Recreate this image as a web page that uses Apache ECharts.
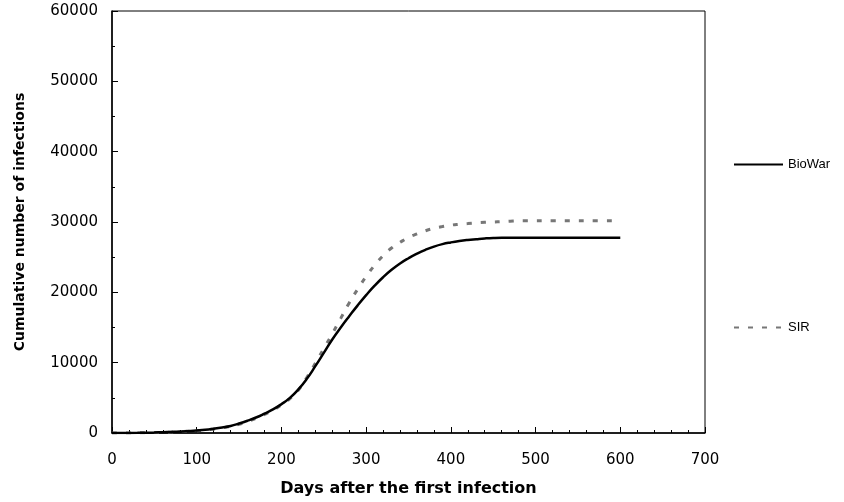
<!DOCTYPE html>
<html>
<head>
<meta charset="utf-8">
<script src="https://cdn.jsdelivr.net/npm/echarts@6/dist/echarts.min.js"></script>
<style>html,body{margin:0;padding:0;background:#fff}#c{width:844px;height:502px}</style>
</head>
<body>
<div id="c"></div>
<script>
const days = [0,10,20,30,40,50,60,70,80,90,100,110,120,130,140,150,160,170,180,190,200,210,220,230,240,250,260,270,280,290,300,310,320,330,340,350,360,370,380,390,400,410,420,430,440,450,460,470,480,490,500,510,520,530,540,550,560,570,580,590,600];
const bioWar = [0,0,10,20,40,70,110,150,200,270,350,450,600,780,1000,1350,1750,2200,2750,3350,4100,5000,6200,7700,9500,11400,13300,15000,16600,18150,19600,20950,22150,23200,24100,24850,25500,26050,26500,26850,27100,27300,27450,27560,27660,27730,27760,27760,27760,27760,27760,27760,27760,27760,27760,27760,27760,27760,27760,27760,27760];
const sir = [0,0,10,20,40,60,100,140,190,250,320,420,560,730,940,1250,1650,2100,2650,3250,4000,4900,6100,7900,9900,12000,14100,16300,18500,20450,22250,23850,25200,26300,27100,27800,28300,28750,29100,29350,29550,29680,29780,29880,29950,30000,30050,30120,30170,30170,30170,30170,30170,30170,30170,30170,30170,30170,30170,30170,null];
const seriesNames = ['BioWar','SIR'];
const xTicks = {min:0, max:700, interval:100};
const yTicks = {min:0, max:60000, interval:10000};

const toPairs = arr => days.map((d,i)=>[d,arr[i]]).filter(p=>p[1]!==null);
const font = '"Liberation Sans", Arial, sans-serif';
const wide = '"DejaVu Sans", sans-serif';
const legendCommon = {itemWidth:49,itemHeight:14,itemStyle:{opacity:0},textStyle:{fontFamily:font,fontSize:13,color:'#000'}};
const chart = echarts.init(document.getElementById('c'));
chart.setOption({
  animation:false,
  backgroundColor:'#fff',
  grid:{left:112,right:139,top:11,bottom:68,show:true,borderColor:'#000',borderWidth:1},
  legend:[
    Object.assign({data:[seriesNames[0]],left:728,top:153},legendCommon),
    Object.assign({data:[seriesNames[1]],left:728,top:316},legendCommon)
  ],
  xAxis:{type:'value',min:xTicks.min,max:xTicks.max,interval:xTicks.interval,
    name:'Days after the first infection',nameLocation:'middle',nameGap:48,
    nameTextStyle:{fontFamily:wide,fontSize:16,fontWeight:'bold',color:'#000'},
    axisLine:{lineStyle:{color:'#000',width:1.5}},
    axisTick:{inside:true,length:6,lineStyle:{color:'#000'}},
    minorTick:{show:true,splitNumber:5,length:3,lineStyle:{color:'#000'}},
    splitLine:{show:false},
    axisLabel:{fontFamily:wide,fontSize:15,color:'#000',margin:20}},
  yAxis:{type:'value',min:yTicks.min,max:yTicks.max,interval:yTicks.interval,
    name:'Cumulative number of infections',nameLocation:'middle',nameGap:85,
    nameTextStyle:{fontFamily:wide,fontSize:14,fontWeight:'bold',color:'#000'},
    axisLine:{show:true,lineStyle:{color:'#000',width:1.5}},
    axisTick:{show:true,inside:true,length:6,lineStyle:{color:'#000'}},
    minorTick:{show:true,splitNumber:2,length:3,lineStyle:{color:'#000'}},
    splitLine:{show:false},
    axisLabel:{fontFamily:wide,fontSize:15,color:'#000',margin:14,formatter:v=>String(v)}},
  series:[
    {name:seriesNames[0],type:'line',data:toPairs(bioWar),symbol:'none',smooth:true,z:3,
      lineStyle:{color:'#000',width:2.5},itemStyle:{color:'#000'}},
    {name:seriesNames[1],type:'line',data:toPairs(sir),symbol:'none',smooth:true,z:2,
      lineStyle:{color:'#777',width:3,type:[5,9]},itemStyle:{color:'#777'}}
  ]
});
</script>
</body>
</html>
